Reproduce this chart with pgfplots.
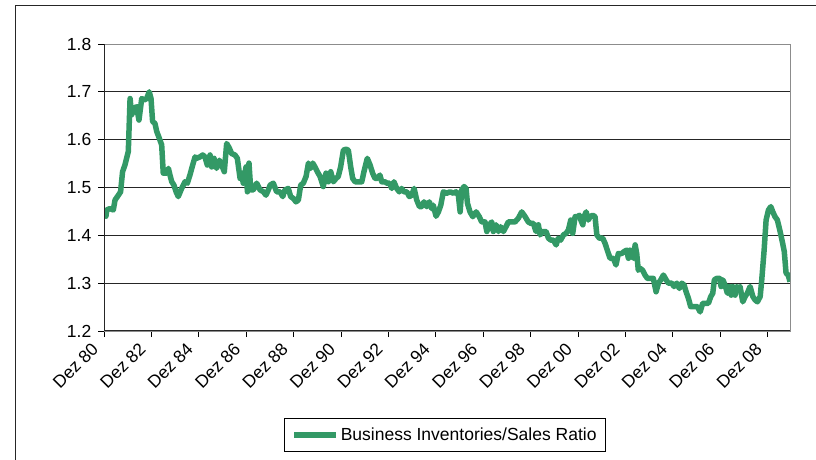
\documentclass[border=0pt]{standalone}
\usepackage{fontspec}
\setmainfont{Liberation Sans}
\usepackage{pgfplots}
\pgfplotsset{compat=1.18}
\definecolor{seagreen}{RGB}{51,153,102}

% months counted from Dec 1980
\pgfplotstableread{
m v
0 1.456
1.0 1.440
1.4 1.453
3.0 1.456
4.7 1.453
5.6 1.474
7.3 1.484
8.4 1.491
9.4 1.533
10.6 1.547
12.3 1.575
13.2 1.686
14.0 1.652
15.4 1.666
16.5 1.669
17.7 1.641
19.1 1.686
20.4 1.683
21.6 1.686
22.9 1.700
23.8 1.686
24.6 1.638
25.8 1.634
26.7 1.617
28.0 1.603
29.2 1.589
30.0 1.530
31.7 1.530
32.6 1.540
33.4 1.526
34.3 1.512
35.4 1.505
36.5 1.491
37.6 1.481
39.3 1.498
41.0 1.512
42.2 1.509
43.5 1.526
44.9 1.547
46.1 1.564
46.9 1.561
48.6 1.564
50.0 1.568
51.1 1.564
52.3 1.547
53.7 1.568
54.5 1.543
55.7 1.561
57.0 1.540
58.4 1.557
59.6 1.547
60.9 1.533
62.1 1.592
63.5 1.582
64.6 1.571
66.3 1.568
67.5 1.561
68.9 1.519
69.7 1.530
70.5 1.509
71.9 1.543
72.6 1.491
73.4 1.551
74.3 1.495
75.6 1.495
77.3 1.509
79.0 1.495
80.7 1.491
82.0 1.484
83.2 1.495
84.1 1.505
85.7 1.509
87.4 1.491
89.1 1.491
90.5 1.481
91.6 1.495
93.3 1.498
94.5 1.481
95.9 1.477
97.2 1.470
98.4 1.474
99.6 1.505
100.9 1.509
102.3 1.523
103.5 1.551
104.6 1.540
105.7 1.551
106.8 1.543
108.0 1.533
109.4 1.523
111.0 1.502
112.4 1.530
113.6 1.512
114.8 1.533
116.1 1.512
117.5 1.519
118.6 1.523
119.8 1.543
121.2 1.578
122.5 1.580
123.7 1.578
124.9 1.543
125.9 1.519
127.1 1.512
128.8 1.512
130.5 1.512
131.6 1.533
133.3 1.561
134.7 1.547
136.0 1.530
137.2 1.519
138.4 1.519
139.7 1.526
140.6 1.512
142.3 1.512
143.1 1.509
144.5 1.509
145.7 1.498
146.8 1.512
148.2 1.498
149.5 1.491
150.7 1.498
151.9 1.491
153.3 1.491
154.6 1.481
155.8 1.484
157.0 1.498
158.3 1.474
159.7 1.460
160.9 1.460
162.0 1.470
163.4 1.460
164.7 1.470
165.9 1.456
166.7 1.463
168.1 1.440
169.3 1.449
170.5 1.463
171.8 1.491
173.5 1.488
175.2 1.491
176.9 1.488
178.2 1.491
179.4 1.484
180.3 1.449
181.1 1.495
182.3 1.502
183.3 1.498
184.0 1.467
185.3 1.449
186.7 1.439
188.4 1.449
190.0 1.439
191.2 1.428
192.9 1.428
193.8 1.408
195.1 1.422
196.3 1.428
197.1 1.408
198.5 1.422
199.7 1.408
200.8 1.418
202.2 1.408
203.5 1.418
204.7 1.428
206.4 1.428
208.1 1.428
209.8 1.436
211.5 1.449
213.2 1.439
214.8 1.428
216.1 1.425
217.4 1.425
218.7 1.408
219.9 1.422
220.8 1.401
222.1 1.408
223.8 1.408
225.0 1.394
226.2 1.390
227.5 1.390
228.9 1.380
230.0 1.394
231.2 1.390
232.6 1.401
233.9 1.404
235.1 1.411
236.3 1.432
237.3 1.404
238.5 1.439
239.7 1.439
240.7 1.442
241.4 1.432
242.4 1.422
243.0 1.439
244.1 1.449
245.2 1.432
246.1 1.439
247.4 1.442
248.6 1.439
249.5 1.401
250.8 1.394
252.5 1.394
253.7 1.383
254.8 1.369
256.2 1.352
257.9 1.352
259.2 1.338
260.4 1.362
262.1 1.362
263.3 1.366
264.6 1.369
265.5 1.352
266.3 1.369
267.2 1.359
268.0 1.352
268.9 1.380
269.7 1.362
270.5 1.327
271.4 1.331
272.7 1.327
273.9 1.317
275.1 1.310
276.5 1.310
278.1 1.310
279.5 1.282
280.7 1.300
281.9 1.307
283.2 1.317
284.6 1.307
285.7 1.300
287.4 1.300
288.6 1.293
290.0 1.300
291.3 1.289
292.5 1.300
293.7 1.296
294.7 1.282
295.9 1.268
297.0 1.251
298.7 1.251
300.4 1.251
301.8 1.240
303.1 1.258
304.8 1.258
306.0 1.258
307.2 1.272
308.2 1.279
309.0 1.307
310.2 1.310
311.6 1.310
312.4 1.293
313.3 1.307
314.4 1.296
315.6 1.279
316.6 1.293
317.5 1.275
318.3 1.293
319.5 1.275
320.4 1.293
321.2 1.289
322.0 1.293
323.4 1.261
324.6 1.272
325.7 1.279
327.1 1.293
328.5 1.272
329.6 1.265
330.8 1.261
332.2 1.272
333.0 1.307
334.2 1.369
335.2 1.432
336.4 1.453
337.6 1.460
338.6 1.449
339.7 1.439
340.9 1.432
342.3 1.408
343.6 1.383
344.4 1.366
345.3 1.321
346.4 1.317
347.3 1.303
}\ratio

\begin{document}
\begin{tikzpicture}[font=\fontsize{17.5bp}{21bp}\selectfont]
\useasboundingbox (0,0) rectangle (816bp,460bp);
% outer chart frame
\draw[line width=1bp, black!85] (15.5bp,0) -- (15.5bp,454.5bp) -- (816bp,454.5bp);
\begin{axis}[
    scale only axis,
    width=686bp, height=287bp,
    at={(104bp,129bp)}, anchor=south west,
    xmin=0, xmax=347.3,
    ymin=1.2, ymax=1.8,
    xtick={0,24,48,72,96,120,144,168,192,216,240,264,288,312,336},
    xticklabels={Dez 80,Dez 82,Dez 84,Dez 86,Dez 88,Dez 90,Dez 92,Dez 94,Dez 96,Dez 98,Dez 00,Dez 02,Dez 04,Dez 06,Dez 08},
    ytick={1.2,1.3,1.4,1.5,1.6,1.7,1.8},
    yticklabel style={/pgf/number format/fixed, /pgf/number format/precision=1,
        /pgf/number format/fixed zerofill, inner xsep=6.5bp},
    /pgf/number format/assume math mode=true,
    xticklabel style={rotate=45, anchor=east, inner xsep=12.5bp},
    tick align=outside,
    xtick pos=left, ytick pos=left,
    major tick length=6bp,
    tick style={black, line width=1bp},
    axis line style={gray!90, line width=1bp},
    ymajorgrids,
    major grid style={black!85, line width=0.8bp},
    legend style={at={(0.497,-0.362)}, anchor=center, draw=black, line width=0.8bp,
        inner xsep=7bp, inner ysep=7bp},
    legend image code/.code={\draw[#1] (0bp,0bp) -- (42bp,0bp);},
]
\addplot[seagreen, line width=5.5bp, line join=round] table[x=m, y=v] {\ratio};
\addlegendentry{Business Inventories/Sales Ratio}
\draw[black!85, line width=1.2bp] (rel axis cs:0,1) -- (rel axis cs:0,0) -- (rel axis cs:1,0);
\end{axis}
\end{tikzpicture}
\end{document}
